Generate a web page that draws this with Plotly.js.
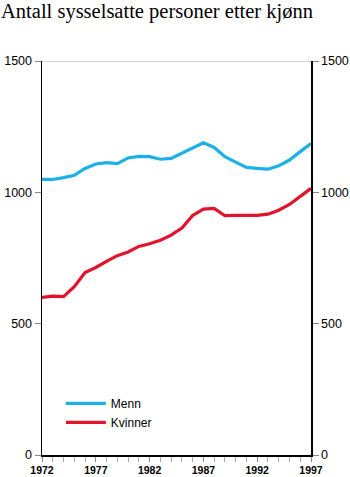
<!DOCTYPE html>
<html>
<head>
<meta charset="utf-8">
<script src="https://cdn.plot.ly/plotly-3.0.1.min.js"></script>
<style>html,body{margin:0;padding:0;background:#fff}#chart{width:350px;height:477px}</style>
</head>
<body>
<div id="chart"></div>
<script>
const years = [1972,1973,1974,1975,1976,1977,1978,1979,1980,1981,1982,1983,1984,1985,1986,1987,1988,1989,1990,1991,1992,1993,1994,1995,1996,1997];
const menn = [1049,1049,1056,1065,1091,1108,1113,1109,1131,1137,1136,1126,1129,1150,1171,1189,1171,1136,1115,1095,1091,1088,1101,1123,1155,1186];
const kvinner = [600,605,603,641,695,714,737,759,773,794,804,818,837,864,912,936,939,911,912,912,912,917,932,954,983,1015];
const xTickLabels = ['1972','1977','1982','1987','1992','1997'];
const yTicks = [0,500,1000,1500];

const data = [
  {x: years, y: menn, name: 'Menn', type: 'scatter', mode: 'lines',
   line: {color: '#1cb1e6', width: 3.2}},
  {x: years, y: kvinner, name: 'Kvinner', type: 'scatter', mode: 'lines',
   line: {color: '#e2132d', width: 3.2}},
  {x: years, y: menn, yaxis: 'y2', type: 'scatter', mode: 'lines', showlegend: false,
   hoverinfo: 'skip', line: {color: 'rgba(0,0,0,0)', width: 0}}
];

const layout = {
  width: 350, height: 477,
  margin: {l: 42, r: 39, t: 61, b: 22},
  paper_bgcolor: '#fff', plot_bgcolor: '#fff',
  title: {text: 'Antall sysselsatte personer etter kjønn', x: 0.003, xanchor: 'left', y: 0.977, yanchor: 'middle',
          font: {family: 'Liberation Serif, Times New Roman, serif', size: 20.5, color: '#000'}},
  showlegend: true,
  legend: {x: 0.07, y: 0.168, xanchor: 'left', yanchor: 'top', bgcolor: 'rgba(0,0,0,0)',
           font: {family: 'Liberation Sans, Arial, sans-serif', size: 12, color: '#000'},
           tracegroupgap: 0, itemwidth: 40},
  xaxis: {range: [1972, 1997], tickvals: xTickLabels.map(Number), ticktext: xTickLabels,
          ticks: 'outside', ticklen: 5, tickcolor: '#888', tickwidth: 1,
          showgrid: false, zeroline: false, showline: true, linecolor: '#000', linewidth: 1.5,
          minor: {dtick: 1, ticks: 'outside', ticklen: 5, tickcolor: '#aaa', showgrid: false},
          tickfont: {family: 'Liberation Sans, Arial, sans-serif', size: 10.5, color: '#000', weight: 'bold'},
          fixedrange: true},
  yaxis: {range: [0, 1500], tickvals: yTicks, ticks: 'outside', ticklen: 6, tickcolor: '#888',
          showgrid: false, zeroline: false, showline: true, linecolor: '#000', linewidth: 1.5,
          tickfont: {family: 'Liberation Sans, Arial, sans-serif', size: 12.5, color: '#000'},
          fixedrange: true},
  yaxis2: {range: [0, 1500], tickvals: yTicks, overlaying: 'y', side: 'right', anchor: 'x',
           ticks: 'outside', ticklen: 6, tickcolor: '#888',
           showgrid: false, zeroline: false, showline: true, linecolor: '#000', linewidth: 1.5,
           tickfont: {family: 'Liberation Sans, Arial, sans-serif', size: 12.5, color: '#000'},
           fixedrange: true},
  shapes: [{type: 'line', xref: 'paper', yref: 'y', x0: 0, x1: 1, y0: 1500, y1: 1500,
            line: {color: '#aaa', width: 1}}]
};

Plotly.newPlot('chart', data, layout, {displayModeBar: false, staticPlot: true});
</script>
</body>
</html>
